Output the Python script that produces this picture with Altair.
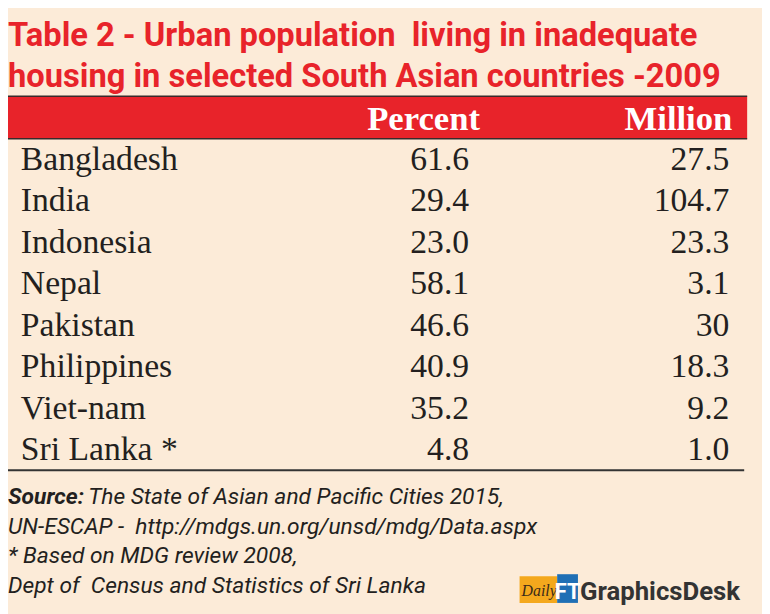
import altair as alt
import pandas as pd

countries = ["Bangladesh", "India", "Indonesia", "Nepal", "Pakistan",
             "Philippines", "Viet-nam", "Sri Lanka *"]
percent = ["61.6", "29.4", "23.0", "58.1", "46.6", "40.9", "35.2", "4.8"]
million = ["27.5", "104.7", "23.3", "3.1", "30", "18.3", "9.2", "1.0"]
headers = ["Percent", "Million"]
title_lines = ["Table 2 - Urban population\u00a0 living in inadequate",
               "housing in selected South Asian countries -2009"]
source_label = "Source:"
footer_lines = ["The State of Asian and Pacific Cities 2015,",
                "UN-ESCAP -\u00a0 http://mdgs.un.org/unsd/mdg/Data.aspx",
                "* Based on MDG review 2008,",
                "Dept of\u00a0 Census and Statistics of Sri Lanka"]

BG = "#FCEBD8"
RED = "#E8232A"
INK = "#231F20"
SANS = "Roboto, 'Liberation Sans', sans-serif"
SERIF = "'Liberation Serif', 'DejaVu Serif', serif"

df = pd.DataFrame({"country": countries, "percent": percent, "million": million})
W, H = 762, 606

yscale = alt.Scale(type="point", domain=countries, range=[129, 465], padding=0.5)
Y = alt.Y("country:N", scale=yscale, axis=None)

base = alt.Chart(df)

col_country = base.mark_text(align="left", baseline="middle", font=SERIF,
                             fontSize=34, color=INK).encode(
    x=alt.value(13), y=Y, text="country:N")
col_percent = base.mark_text(align="right", baseline="middle", font=SERIF,
                             fontSize=34, color=INK).encode(
    x=alt.value(466), y=Y, text="percent:N")
col_million = base.mark_text(align="right", baseline="middle", font=SERIF,
                             fontSize=34, color=INK).encode(
    x=alt.value(729), y=Y, text="million:N")

one = alt.Chart(pd.DataFrame({"a": [0]}))

band = one.mark_rect(color=RED).encode(
    x=alt.value(-3), x2=alt.value(747), y=alt.value(86), y2=alt.value(129))
band_top = one.mark_rule(color="#3a2a2a", strokeWidth=1.5).encode(
    x=alt.value(-3), x2=alt.value(747), y=alt.value(86))
band_bot = one.mark_rule(color="#3a2a2a", strokeWidth=1.5).encode(
    x=alt.value(-3), x2=alt.value(747), y=alt.value(129))
bottom_rule = one.mark_rule(color="#333333", strokeWidth=2).encode(
    x=alt.value(-3), x2=alt.value(744), y=alt.value(464))

hdr_df = pd.DataFrame({"h": headers})
hdr1 = alt.Chart(hdr_df).transform_filter(alt.datum.h == headers[0]).mark_text(
    align="center", baseline="middle", font=SERIF, fontWeight="bold",
    fontSize=35, color="white").encode(x=alt.value(420), y=alt.value(109), text="h:N")
hdr2 = alt.Chart(hdr_df).transform_filter(alt.datum.h == headers[1]).mark_text(
    align="right", baseline="middle", font=SERIF, fontWeight="bold",
    fontSize=35, color="white").encode(x=alt.value(732), y=alt.value(109), text="h:N")

t_df = pd.DataFrame({"t": title_lines, "i": [0, 1]})
title = alt.Chart(t_df).mark_text(
    align="left", baseline="alphabetic", font=SANS, fontWeight="bold",
    fontSize=33, color=RED).encode(
    x=alt.value(0),
    y=alt.Y("i:O", scale=alt.Scale(type="point", domain=[0, 1], range=[35, 77], padding=0), axis=None),
    text="t:N")

f_df = pd.DataFrame({"t": footer_lines, "i": [0, 1, 2, 3],
                     "x": [81, 0, 0, 0]})
footer = alt.Chart(f_df).mark_text(
    align="left", baseline="alphabetic", font=SANS, fontStyle="italic",
    fontSize=23, color=INK).encode(
    x=alt.X("x:Q", scale=alt.Scale(domain=[0, W], range=[0, W]), axis=None),
    y=alt.Y("i:O", scale=alt.Scale(type="point", domain=[0, 1, 2, 3], range=[498, 588], padding=0), axis=None),
    text="t:N")
src = alt.Chart(pd.DataFrame({"t": [source_label]})).mark_text(
    align="left", baseline="alphabetic", font=SANS, fontStyle="italic",
    fontWeight="bold", fontSize=23, color=INK).encode(
    x=alt.value(0), y=alt.value(498), text="t:N")

logo_box1 = one.mark_rect(color="#F4A81D").encode(
    x=alt.value(517), x2=alt.value(555), y=alt.value(571), y2=alt.value(598))
logo_box2 = one.mark_rect(color="#1F6FB5").encode(
    x=alt.value(555), x2=alt.value(576), y=alt.value(569), y2=alt.value(598))
logo_daily = alt.Chart(pd.DataFrame({"t": ["Daily"]})).mark_text(
    align="left", baseline="alphabetic", font=SERIF, fontStyle="italic",
    fontSize=16, color="#3a2a1a").encode(x=alt.value(519), y=alt.value(591), text="t:N")
logo_ft = alt.Chart(pd.DataFrame({"t": ["FT"]})).mark_text(
    align="center", baseline="alphabetic", font=SANS, fontWeight="bold",
    fontSize=22, color="white").encode(x=alt.value(565.5), y=alt.value(594), text="t:N")
logo_gd = alt.Chart(pd.DataFrame({"t": ["GraphicsDesk"]})).mark_text(
    align="left", baseline="alphabetic", font=SANS, fontWeight="bold",
    fontSize=26, color="#333333").encode(x=alt.value(578), y=alt.value(595), text="t:N")

chart = alt.layer(
    band, band_top, band_bot, bottom_rule, hdr1, hdr2, title,
    col_country, col_percent, col_million, src, footer,
    logo_box1, logo_box2, logo_daily, logo_ft, logo_gd
).resolve_scale(y="independent", x="independent").properties(
    width=W, height=H, padding=0, autosize=alt.AutoSizeParams(type="none"),
    background=BG
).configure_view(stroke=None)

chart.save("out.html", embed_options={"renderer": "svg", "actions": False})
